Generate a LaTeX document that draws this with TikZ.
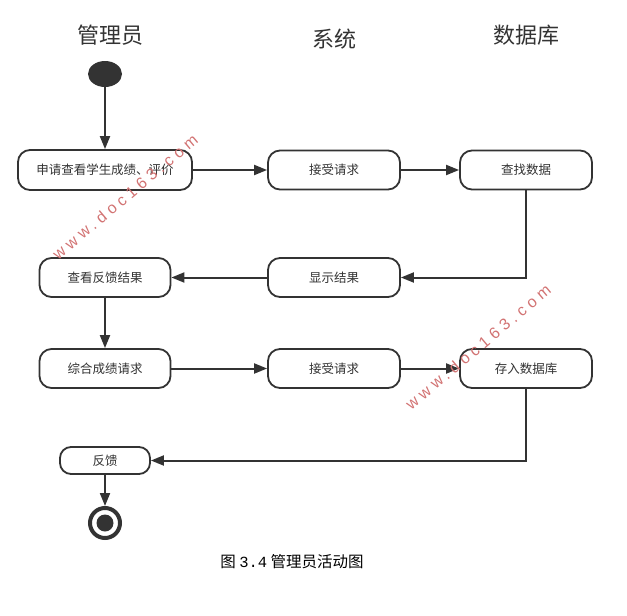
\documentclass[tikz,border=0pt]{standalone}
\usepackage{fontspec}
\setmainfont{Liberation Sans}
\newfontfamily\cjk{Noto Sans CJK SC}
\newfontfamily\wmfont[LetterSpace=28]{Liberation Sans}
\newfontfamily\capmono{Liberation Mono}
\usetikzlibrary{arrows.meta,shapes.geometric}
\definecolor{ink}{HTML}{333333}
\definecolor{wmred}{RGB}{210,115,115}
\tikzset{
  act/.style={draw=ink, line width=1.8pt, rounded corners=12pt, fill=white,
    minimum width=132pt, minimum height=39pt, inner sep=0pt,
    font=\cjk\fontsize{12.5}{14}\selectfont, text=ink},
  flow/.style={draw=ink, line width=2pt, -{Triangle[length=13pt,width=10pt]}},
  lane/.style={font=\cjk\fontsize{22}{25}\selectfont, text=ink},
  wm/.style={font=\wmfont\fontsize{16}{19}\selectfont, text=wmred, rotate=40}
}
\begin{document}
\begin{tikzpicture}[x=1pt,y=-1pt]
\useasboundingbox (0,0) rectangle (627,616);
% lane titles
\node[lane] (t1) at (110,35) {管理员};
\node[lane] (t2) at (334,39) {系统};
\node[lane] (t3) at (526,35) {数据库};
% start
\node[ellipse, fill=ink, minimum width=34pt, minimum height=26pt, inner sep=0pt] (start) at (105,74) {};
% row 1
\node[act, minimum width=174pt, minimum height=40pt] (req) at (105,170) {申请查看学生成绩、评价};
\node[act] (recv1) at (334,170) {接受请求};
\node[act] (find) at (526,170) {查找数据};
% row 2
\node[act, minimum width=131pt] (view) at (105,277.5) {查看反馈结果};
\node[act] (show) at (334,277.5) {显示结果};
% row 3
\node[act, minimum width=131pt] (comb) at (105,368.5) {综合成绩请求};
\node[act] (recv2) at (334,368.5) {接受请求};
\node[act] (store) at (526,368.5) {存入数据库};
% feedback
\node[act, minimum width=90pt, minimum height=27pt, rounded corners=11pt] (fb) at (105,460.5) {反馈};
% end
\node[circle, draw=ink, line width=4pt, minimum size=30pt, inner sep=0pt, fill=white] (end) at (105,523) {};
\fill[ink] (end.center) circle (8.5);
% connectors
\draw[flow] (start) -- (req);
\draw[flow] (req) -- (recv1);
\draw[flow] (recv1) -- (find);
\draw[flow] (find.south) |- (show.east);
\draw[flow] (show) -- (view);
\draw[flow] (view) -- (comb);
\draw[flow] (comb) -- (recv2);
\draw[flow] (recv2) -- (store);
\draw[flow] (store.south) |- (fb.east);
\draw[flow] (fb) -- (end);
% watermarks
\node[wm] (wm1) at (125,197) {www.doc163.com};
\node[wm] (wm2) at (478,347) {www.doc163.com};
% caption
\node[font=\cjk\fontsize{15.5}{18}\selectfont, text=black] (cap) at (292,562) {图 {\capmono 3.4} 管理员活动图};
\end{tikzpicture}
\end{document}
